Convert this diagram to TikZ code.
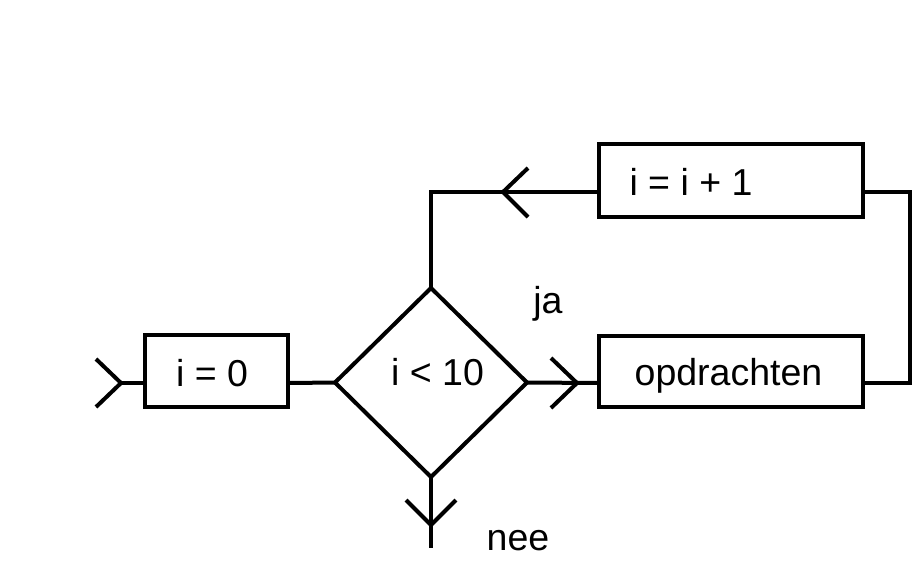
\documentclass[tikz,border=0pt]{standalone}
\usepackage{fontspec}
\setmainfont{Liberation Sans}
\usetikzlibrary{shapes.geometric,calc}
\begin{document}
\begin{tikzpicture}[x=1pt,y=-1pt,
  ln/.style={line width=4pt},
  boxshape/.style={draw,line width=4pt,rectangle,inner sep=0pt,outer sep=0pt},
  decshape/.style={draw,line width=4pt,diamond,inner sep=0pt,outer sep=0pt,minimum width=192pt,minimum height=189pt},
  txt/.style={font=\fontsize{37.5}{42}\selectfont,anchor=base,inner sep=0pt}]
\useasboundingbox (0,0) rectangle (912,560);
% boxes
\node[boxshape,minimum width=143pt,minimum height=72pt] (init) at (216.5,371) {};
\node[decshape] (cond) at (431,382.5) {};
\node[boxshape,minimum width=264pt,minimum height=71pt] (body) at (731,371.5) {};
\node[boxshape,minimum width=264pt,minimum height=73pt] (incr) at (731,180.5) {};
% texts
\node[txt] (tinit) at (212,386) {i = 0};
\node[txt] (tcond) at (437.5,385) {i {<} 10};
\node[txt] (tbody) at (728.5,385) {opdrachten};
\node[txt] (tincr) at (691,195) {i = i + 1};
\node[txt] (tja) at (548,313) {ja};
\node[txt] (tnee) at (518,550) {nee};
% coordinates
\coordinate (entry) at (121,383);
\coordinate (initE) at (init.east |- 0,383);
\coordinate (initW) at (init.west |- 0,383);
\coordinate (bodyW) at (body.west |- 0,383);
\coordinate (bodyE) at (body.east |- 0,383);
\coordinate (incrE) at (incr.east |- 0,192);
\coordinate (incrW) at (incr.west |- 0,192);
\coordinate (rightTop) at (910,192);
\coordinate (rightBot) at (910,383);
\coordinate (leftTop) at (cond.north |- 0,192);
\coordinate (exit) at (cond.south |- 0,548);
\coordinate (chIn) at (121,383);
\coordinate (chJa) at (577,383);
\coordinate (chTop) at (503,192);
\coordinate (chNee) at (cond.south |- 0,525);
% connectors
\draw[ln] (entry) -- (initW);
\draw[ln] (initE) -- (cond.west);
\draw[ln] (cond.east) -- (bodyW);
\draw[ln] (bodyE) -- (rightBot) -- (rightTop) -- (incrE);
\draw[ln] (incrW) -- (leftTop) -- (cond.north);
\draw[ln] (cond.south) -- (exit);
% chevrons
\draw[ln] ($(chIn)+(-25,-24)$) -- (chIn) -- ($(chIn)+(-25,24)$);
\draw[ln] ($(chJa)+(-26,-25)$) -- (chJa) -- ($(chJa)+(-26,25)$);
\draw[ln] ($(chTop)+(25,-24)$) -- (chTop) -- ($(chTop)+(25,25)$);
\draw[ln] ($(chNee)+(-25,-25)$) -- (chNee) -- ($(chNee)+(25,-25)$);
\end{tikzpicture}
\end{document}
